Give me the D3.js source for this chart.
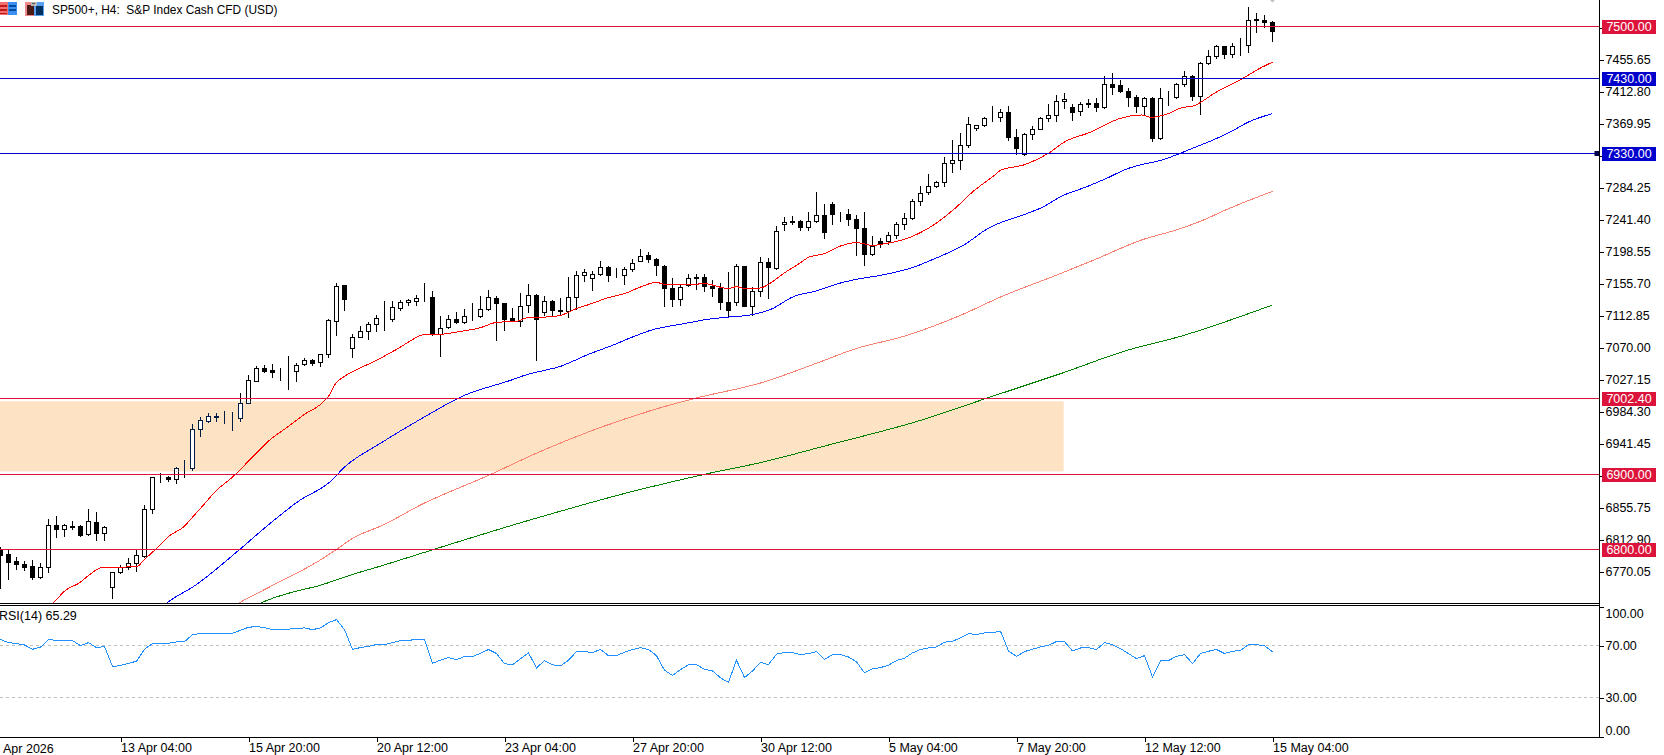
<!DOCTYPE html>
<html>
<head>
<meta charset="utf-8">
<title>SP500+ H4</title>
<script src="https://cdn.jsdelivr.net/npm/d3@7/dist/d3.min.js"></script>
<style>
  html, body { margin: 0; padding: 0; background: #fff; overflow: hidden; }
  svg { display: block; }
  text { font-family: "Liberation Sans", Arial, sans-serif; font-size: 12.5px; fill: #000; }
</style>
</head>
<body>
<svg id="chart" width="1664" height="755"></svg>
<script>
// H4 candles, oldest first
const openPrices = [
6798.8,6793.0,6783.6,6780.0,6777.4,6763.1,6775.6,6831.8,6827.3,6831.4,
6830.5,6819.8,6836.3,6822.0,6748.8,6768.9,6776.5,6781.8,6791.2,6853.2,
6896.1,6896.1,6894.3,6909.9,6909.0,6960.3,6971.0,6978.2,6977.3,6977.3,
6976.0,6995.1,7024.6,7042.0,7039.3,7038.0,7038.9,7038.9,7047.4,7052.7,
7050.0,7060.8,7105.8,7152.9,7068.8,7084.4,7092.4,7100.9,7109.0,7108.5,
7122.8,7130.0,7132.6,7137.1,7137.5,7087.1,7097.8,7108.1,7103.6,7111.7,
7111.7,7121.0,7135.8,7129.1,7109.0,7105.4,7126.4,7139.8,7117.0,7131.7,
7119.7,7117.9,7137.1,7166.6,7162.5,7167.5,7177.3,7166.1,7166.1,7174.6,
7185.3,7193.3,7188.0,7178.6,7149.2,7134.4,7153.2,7163.9,7163.9,7152.3,
7149.2,7130.4,7130.0,7178.6,7124.6,7145.1,7184.0,7176.4,7234.8,7238.9,
7238.9,7230.4,7238.4,7246.9,7262.1,7248.2,7247.8,7241.5,7229.5,7194.7,
7211.6,7211.6,7219.7,7234.4,7242.9,7265.6,7277.3,7285.3,7291.1,7316.5,
7320.5,7340.6,7362.9,7367.4,7377.7,7377.7,7384.8,7351.3,7329.0,7355.4,
7362.0,7376.3,7380.8,7399.5,7391.5,7385.7,7396.4,7396.4,7391.0,7422.7,
7421.4,7412.9,7404.9,7392.4,7403.5,7349.5,7406.7,7404.9,7421.8,7433.0,
7405.8,7450.4,7459.8,7473.2,7462.5,7474.1,7474.5,7508.9,7508.0,7505.7];

const closePrices = [
6792.1,6783.2,6779.6,6776.5,6763.1,6775.6,6831.8,6827.3,6831.8,6830.0,
6819.3,6837.2,6822.0,6830.0,6768.9,6776.0,6781.8,6791.6,6853.2,6896.1,
6896.1,6893.8,6909.0,6909.9,6960.3,6972.4,6977.7,6976.4,6977.3,6977.3,
6995.1,7025.9,7042.0,7038.9,7036.7,7038.0,7038.9,7046.9,7052.7,7049.6,
7060.8,7106.3,7152.3,7134.9,7084.4,7092.4,7100.9,7109.0,7109.0,7123.7,
7130.4,7133.1,7136.6,7137.1,7088.0,7095.6,7107.6,7103.2,7111.7,7111.7,
7121.0,7137.1,7128.6,7108.5,7105.4,7125.9,7139.8,7107.6,7131.7,7119.3,
7117.9,7137.1,7166.1,7170.1,7167.5,7176.8,7166.6,7166.1,7174.6,7182.6,
7192.0,7187.5,7179.5,7149.2,7134.4,7150.5,7162.1,7162.1,7151.4,7148.7,
7130.4,7119.3,7178.2,7124.6,7144.7,7183.5,7176.8,7225.5,7237.5,7237.1,
7230.4,7238.4,7246.9,7223.7,7247.8,7248.2,7241.1,7229.0,7194.7,7205.4,
7209.4,7219.7,7234.4,7242.9,7265.6,7275.9,7285.3,7291.1,7316.5,7320.1,
7340.6,7368.7,7367.0,7376.3,7377.7,7384.8,7350.9,7336.6,7355.4,7362.0,
7376.3,7380.8,7399.5,7402.2,7384.4,7395.5,7395.1,7391.1,7422.7,7417.8,
7412.5,7404.9,7392.4,7403.5,7349.5,7403.5,7406.7,7422.3,7433.0,7405.8,
7450.4,7459.8,7473.2,7462.0,7473.2,7474.1,7508.0,7508.0,7504.9,7492.8];

const highPrices = [
6803.2,6798.8,6789.9,6784.5,6785.4,6780.9,6839.8,6844.3,6833.6,6837.6,
6832.2,6853.2,6849.2,6830.9,6769.8,6778.7,6787.6,6798.8,6858.6,6897.0,
6901.4,6897.9,6910.4,6919.3,6967.0,6976.4,6981.8,6981.8,6984.4,6984.0,
7008.5,7033.1,7045.1,7046.5,7047.8,7042.0,7058.5,7049.6,7055.4,7054.1,
7061.2,7107.6,7156.3,7153.6,7088.0,7098.7,7104.0,7113.4,7132.2,7132.2,
7133.5,7134.4,7140.2,7155.8,7145.6,7112.1,7113.4,7117.5,7121.0,7129.1,
7138.9,7146.9,7138.9,7129.5,7122.4,7142.5,7155.0,7140.7,7138.0,7133.5,
7135.8,7163.9,7172.4,7174.6,7171.5,7185.8,7179.1,7175.9,7177.3,7188.0,
7201.4,7197.8,7189.3,7179.5,7162.5,7153.6,7168.3,7168.3,7168.3,7160.3,
7155.8,7171.0,7181.7,7179.1,7150.5,7190.7,7189.3,7232.6,7244.2,7245.1,
7239.8,7250.9,7277.7,7261.6,7264.8,7251.4,7254.9,7247.4,7251.4,7219.2,
7216.1,7224.6,7237.5,7249.6,7268.3,7285.3,7302.2,7292.9,7324.6,7347.8,
7356.7,7378.1,7367.8,7377.7,7393.3,7388.8,7393.3,7362.0,7356.7,7366.5,
7378.1,7396.0,7408.0,7410.2,7396.0,7398.2,7402.2,7403.6,7433.4,7437.0,
7428.1,7416.5,7408.0,7404.9,7404.4,7416.9,7413.4,7423.6,7440.1,7434.3,
7452.2,7468.3,7474.5,7473.6,7477.2,7483.9,7525.8,7517.3,7515.1,7506.2];

const lowPrices = [
6747.5,6759.5,6772.9,6772.0,6760.4,6760.8,6769.8,6816.6,6817.5,6826.4,
6817.5,6819.3,6812.2,6812.2,6734.9,6767.5,6772.9,6771.1,6789.9,6848.8,
6890.3,6891.6,6888.9,6897.0,6905.9,6951.4,6970.6,6971.9,6969.3,6959.4,
6971.9,6995.1,7024.2,7037.5,7030.8,7026.4,7014.8,7025.5,7046.5,7046.9,
7045.6,7057.6,7087.0,7120.1,7057.6,7083.5,7081.7,7092.4,7093.3,7104.5,
7120.1,7126.8,7126.8,7131.3,7086.7,7057.7,7095.6,7102.3,7102.3,7105.9,
7110.3,7120.1,7079.1,7092.5,7104.5,7098.7,7116.6,7053.2,7113.4,7111.2,
7114.8,7110.3,7121.0,7158.1,7146.9,7166.1,7158.1,7163.9,7155.0,7171.5,
7184.9,7184.0,7167.0,7125.5,7125.5,7126.8,7152.3,7148.3,7144.7,7138.9,
7121.5,7110.3,7126.8,7124.6,7113.4,7138.0,7136.2,7174.6,7226.4,7235.3,
7227.3,7226.4,7237.1,7216.6,7235.3,7239.3,7233.9,7192.9,7179.5,7193.8,
7203.6,7208.5,7215.7,7228.6,7241.5,7260.7,7275.0,7284.4,7285.3,7304.0,
7308.9,7337.5,7361.2,7365.6,7372.3,7372.3,7346.9,7329.0,7327.2,7349.1,
7361.6,7372.8,7372.3,7390.6,7373.7,7381.2,7391.1,7385.7,7390.2,7409.3,
7411.6,7393.3,7385.2,7381.2,7345.5,7348.6,7394.6,7403.5,7419.2,7401.3,
7382.6,7449.5,7456.7,7456.7,7458.4,7460.7,7464.7,7491.5,7498.2,7479.4];

// Moving averages as [bar, price] readings
const maRed = [[6.5,6727.8],[7,6733.1],[8,6744.2],[10,6756.3],[11,6765.3],[12.75,6776.0],[17,6776.9],[18,6786.7],[19.5,6801.4],[21,6817.5],[23,6831.3],[24,6843.3],[25,6855.0],[27,6879.1],[29,6896.9],[31.5,6923.7],[33.6,6946.0],[36,6964.8],[38,6980.9],[40,6994.2],[41,7005.0],[42,7023.7],[43,7031.7],[47,7053.2],[50,7071.0],[51,7077.7],[53,7087.6],[55,7088.0],[57,7091.0],[60,7096.9],[62,7104.0],[64.5,7105.4],[66,7110.7],[68,7111.1],[70,7113.4],[72,7122.4],[73.5,7127.7],[76,7137.1],[78,7142.5],[80,7151.3],[82,7157.6],[83,7154.9],[86.5,7154.9],[88,7155.8],[91,7149.2],[92,7151.8],[93,7149.2],[95,7150.0],[96,7154.9],[98,7170.3],[100,7183.7],[101,7191.1],[103,7196.0],[105,7206.2],[107,7210.8],[109,7207.1],[111,7210.2],[113,7215.2],[117,7237.0],[119.5,7258.4],[121.5,7278.5],[124.5,7303.1],[125,7307.6],[128,7315.0],[131,7330.3],[133,7345.5],[136.5,7359.8],[137,7362.5],[140,7377.2],[142.7,7381.6],[143.8,7378.5],[146,7383.5],[147.7,7391.5],[149,7393.3],[152,7412.4],[155,7428.7],[157.5,7444.5],[159,7452.2]];

const maBlue = [[20.7,6727.8],[21.4,6733.1],[24,6749.6],[30,6801.0],[33.25,6830.9],[37.4,6865.7],[41,6888.9],[43.25,6912.6],[47.4,6941.6],[52.4,6973.8],[58,7006.3],[64,7027.3],[65.5,7033.1],[68,7039.8],[70,7045.1],[71.5,7051.8],[73.5,7061.2],[76.5,7073.3],[79,7084.4],[82,7095.6],[83,7097.7],[86,7103.4],[88,7107.4],[91,7111.1],[94,7114.4],[96.5,7122.4],[99,7137.9],[102,7146.2],[105,7156.7],[107,7161.6],[110,7167.0],[114,7177.3],[116.5,7188.0],[120.7,7209.4],[123.2,7228.2],[125.2,7238.3],[127.7,7247.3],[130.3,7258.4],[132.7,7273.2],[135.7,7285.2],[138.2,7296.5],[140.9,7309.8],[143.2,7316.5],[144.6,7319.6],[147.4,7329.9],[148.6,7335.3],[151,7345.5],[153.6,7358.1],[156,7372.2],[159,7383.5]];

const maSalmon = [[29.7,6727.8],[30.6,6733.1],[34,6751.9],[39.9,6785.4],[42,6800.1],[44,6814.8],[48,6833.6],[52.4,6859.0],[61,6899.2],[67.5,6931.3],[74,6959.4],[82,6988.2],[87,7002.8],[95,7022.8],[102.4,7050.9],[106.9,7068.8],[112.9,7085.3],[120,7113.4],[125,7137.9],[131.6,7165.6],[136.6,7187.1],[142.5,7213.8],[147.5,7229.5],[150.8,7242.9],[152.4,7250.9],[159,7279.4]];

const maGreen = [[32.4,6727.8],[33.6,6733.1],[36.5,6742.9],[39.9,6751.9],[44,6766.6],[47.8,6778.7],[51.1,6789.8],[66,6838.9],[79.5,6879.1],[88.5,6901.8],[95,6916.3],[103.3,6939.3],[115,6972.8],[123.7,7004.0],[132.5,7035.3],[140.8,7066.5],[147.5,7085.3],[159,7127.3]];

const rsiValues = [
74.6,72.2,71.5,70.4,67.1,68.7,74.6,74.0,74.0,73.8,
69.9,72.2,68.4,69.2,53.8,54.6,56.3,57.9,67.1,71.5,
71.5,71.7,72.8,73.0,78.4,79.2,79.2,79.2,79.2,79.4,
81.7,84.0,84.6,83.8,82.2,82.2,82.5,83.3,83.5,82.2,
83.5,87.6,89.9,82.2,67.1,68.4,69.4,70.7,70.7,72.2,
73.8,74.0,74.6,74.6,56.3,58.7,60.7,59.2,61.5,61.5,
64.0,66.9,63.8,56.1,55.1,59.9,64.3,52.8,58.4,55.1,
54.3,58.7,65.3,65.3,64.6,66.9,62.2,62.2,64.8,66.9,
68.4,66.9,62.2,51.0,46.9,51.5,55.1,55.3,51.7,50.4,
45.1,41.7,58.7,45.3,50.4,57.1,55.3,63.3,64.6,64.6,
63.0,63.8,65.3,59.2,63.0,63.0,61.2,57.4,48.9,52.0,
53.0,54.8,58.4,60.2,64.3,66.9,68.1,68.9,72.5,73.3,
75.8,79.2,78.4,79.7,79.9,81.0,65.8,61.7,65.3,67.1,
68.9,70.2,73.0,73.0,65.8,68.1,68.4,66.9,72.2,70.7,
67.6,63.8,59.9,62.2,45.8,58.1,58.4,61.7,63.0,56.1,
63.8,65.6,66.9,63.8,65.6,66.1,70.7,70.7,69.7,65.29];

const redLevels = [7500, 7002.4, 6900, 6800];
const blueLevels = [7430, 7330];
const zoneTop = 6998.3, zoneBottom = 6904.5, zoneEndBar = 132.9;
const priceTicks = [7498.5,7455.65,7412.8,7369.95,7327.1,7284.25,7241.4,7198.55,7155.7,7112.85,7070,7027.15,6984.3,6941.45,6898.6,6855.75,6812.9,6770.05];
const rsiTicks = [100, 70, 30, 0];
const rsiGuides = [70, 30];
const timeBars = [15,31,47,63,79,95,111,127,143,159];
const timeLabels = ["13 Apr 04:00","15 Apr 20:00","20 Apr 12:00","23 Apr 04:00","27 Apr 20:00","30 Apr 12:00","5 May 04:00","7 May 20:00","12 May 12:00","15 May 04:00"];
const titleText = "SP500+, H4:  S&P Index Cash CFD (USD)";
const rsiLabel = "RSI(14) 65.29";
const firstDateLabel = "Apr 2026";

const CRIMSON = "#DC143C", NAVY = "#0000CD", AXIS_X = 1599.5, MAIN_BOTTOM = 603;

const svg = d3.select("#chart");
const x = d3.scaleLinear().domain([0, 159]).range([0.5, 1272.5]);
const y = d3.scaleLinear().domain([6800, 7500]).range([549.5, 26.5]);
const yRsi = d3.scaleLinear().domain([0, 100]).range([736.5, 606.5]);
const snap = v => Math.floor(v) + 0.5;

const defs = svg.append("defs");
defs.append("clipPath").attr("id", "main-clip").append("rect")
  .attr("x", 0).attr("y", 0).attr("width", AXIS_X).attr("height", MAIN_BOTTOM);
defs.append("clipPath").attr("id", "zone-clip").append("rect")
  .attr("x", 0).attr("y", y(zoneTop))
  .attr("width", x(zoneEndBar)).attr("height", y(zoneBottom) - y(zoneTop));

const main = svg.append("g").attr("clip-path", "url(#main-clip)");

// Supply/demand box
main.append("rect")
  .attr("x", 0).attr("y", y(zoneTop))
  .attr("width", x(zoneEndBar)).attr("height", y(zoneBottom) - y(zoneTop))
  .attr("fill", "#FDE3C3");

const candles = d3.range(openPrices.length).map(i => ({
  i, o: openPrices[i], c: closePrices[i], h: highPrices[i], l: lowPrices[i]
}));

function drawCandles(parent, ink) {
  const g = parent.selectAll("g").data(candles).join("g").attr("shape-rendering", "crispEdges");
  g.append("line")
    .attr("x1", d => x(d.i)).attr("x2", d => x(d.i))
    .attr("y1", d => Math.floor(y(d.h))).attr("y2", d => Math.floor(y(d.l)) + 1)
    .attr("stroke", ink);
  g.append("rect")
    .attr("x", d => x(d.i) - 2).attr("width", 4)
    .attr("y", d => snap(y(Math.max(d.o, d.c))))
    .attr("height", d => snap(y(Math.min(d.o, d.c))) - snap(y(Math.max(d.o, d.c))))
    .attr("fill", d => d.c > d.o ? "#fff" : ink)
    .attr("stroke", ink);
}
drawCandles(main.append("g"), "#000");
// Inside the box the candle outlines take the inverted tone of its fill
drawCandles(main.append("g").attr("clip-path", "url(#zone-clip)"), "#021D45");

const maLine = d3.line().curve(d3.curveMonotoneX).x(d => x(d[0])).y(d => y(d[1]));
[[maRed, "#FF0000"], [maBlue, "#0000FF"], [maSalmon, "#FA8072"], [maGreen, "#008000"]].forEach(([pts, col]) => {
  main.append("path").datum(pts).attr("d", maLine)
    .attr("fill", "none").attr("stroke", col).attr("stroke-width", 1)
    .attr("shape-rendering", "crispEdges");
});

// Horizontal levels
const levels = redLevels.map(v => [v, CRIMSON]).concat(blueLevels.map(v => [v, NAVY]));
svg.append("g").attr("shape-rendering", "crispEdges").selectAll("line").data(levels).join("line")
  .attr("x1", 0).attr("x2", AXIS_X)
  .attr("y1", d => snap(y(d[0]))).attr("y2", d => snap(y(d[0])))
  .attr("stroke", d => d[1]);

// Small trade arrow clipped by the top edge
svg.append("path").attr("d", `M${x(159) - 2.5},0 h5 l-2.5,2.5 z`).attr("fill", "#c0c0c0");
// Line handle on the lower blue level
svg.append("rect").attr("x", 1594.5).attr("y", snap(y(7330)) - 2.5).attr("width", 5).attr("height", 5).attr("fill", "#00004b");

// Chart icons beside the title
const icons = svg.append("g").attr("shape-rendering", "crispEdges");
[[0,2,8,13,"#f07070"],[8,2,9,13,"#3a8ff0"],[0,5,7,2,"#c01818"],[0,9,7,2,"#c01818"],[9,5,7,2,"#004a9a"],[9,9,7,2,"#004a9a"],[0,13,7,1,"#c01818"],
 [25,2,9,14,"#f08a8a"],[34,2,10,14,"#5aa0f0"],[27,5,7,10,"#4a1a14"],[36,6,7,9,"#00305e"],[31,2,6,4,"#b8b8b8"],[32,3,3,1,"#555"]].forEach(r => {
  icons.append("rect").attr("x", r[0]).attr("y", r[1]).attr("width", r[2]).attr("height", r[3]).attr("fill", r[4]);
});
svg.append("text").attr("x", 52).attr("y", 14).attr("xml:space", "preserve")
  .style("white-space", "pre").style("font-size", "11.9px").text(titleText);

// Separator between panels, and the RSI panel frame
svg.append("g").attr("shape-rendering", "crispEdges").selectAll("line").data([603.5, 605.5, 737.5]).join("line")
  .attr("x1", 0).attr("x2", AXIS_X).attr("y1", d => d).attr("y2", d => d).attr("stroke", "#000");
svg.append("line").attr("x1", AXIS_X).attr("x2", AXIS_X).attr("y1", 0).attr("y2", 738)
  .attr("stroke", "#000").attr("shape-rendering", "crispEdges");

// RSI panel
svg.append("g").attr("shape-rendering", "crispEdges").selectAll("line").data(rsiGuides).join("line")
  .attr("x1", 0).attr("x2", AXIS_X)
  .attr("y1", d => snap(yRsi(d))).attr("y2", d => snap(yRsi(d)))
  .attr("stroke", "#C0C0C0").attr("stroke-dasharray", "3 3");
svg.append("path").datum(rsiValues)
  .attr("d", d3.line().x((d, i) => x(i)).y(d => yRsi(d)))
  .attr("fill", "none").attr("stroke", "#1E90FF").attr("stroke-width", 1)
  .attr("shape-rendering", "crispEdges");
svg.append("text").attr("x", -1).attr("y", 620).text(rsiLabel);

// Price axis
const priceAxis = d3.axisRight(y).tickValues(priceTicks).tickFormat(d3.format(".2f")).tickSize(4).tickPadding(2);
const gPrice = svg.append("g").attr("transform", `translate(${AXIS_X},0)`).call(priceAxis);
gPrice.select(".domain").remove();
gPrice.selectAll("line").attr("shape-rendering", "crispEdges");

const rsiAxis = d3.axisRight(yRsi).tickValues(rsiTicks).tickFormat(d3.format(".2f")).tickSize(4).tickPadding(2);
const gRsi = svg.append("g").attr("transform", `translate(${AXIS_X},0)`).call(rsiAxis);
gRsi.select(".domain").remove();
gRsi.selectAll("line").attr("shape-rendering", "crispEdges");
gRsi.selectAll("text").attr("dy", d => d === 100 ? "0.85em" : d === 0 ? "-0.15em" : "0.32em");

// Boxed level tags, drawn above the price labels
const tags = svg.append("g").selectAll("g").data(levels).join("g")
  .attr("transform", d => `translate(1602,${snap(y(d[0])) - 7})`);
tags.append("rect").attr("width", 54).attr("height", 14).attr("fill", d => d[1]).attr("shape-rendering", "crispEdges");
tags.append("text").attr("x", 27).attr("y", 11.5).attr("text-anchor", "middle").style("fill", "#fff")
  .text(d => d3.format(".2f")(d[0]));

// Time axis
const timeAxis = d3.axisBottom(x).tickValues(timeBars).tickFormat((d, i) => timeLabels[i]).tickSize(5).tickPadding(3);
const gTime = svg.append("g").attr("transform", "translate(0,737)").call(timeAxis);
gTime.select(".domain").remove();
gTime.selectAll("line").attr("shape-rendering", "crispEdges");
gTime.selectAll("text").attr("text-anchor", "start").attr("dx", 0).attr("dy", "0.71em").attr("y", 6.5);
svg.append("text").attr("x", 3).attr("y", 753).text(firstDateLabel);
</script>
</body>
</html>
